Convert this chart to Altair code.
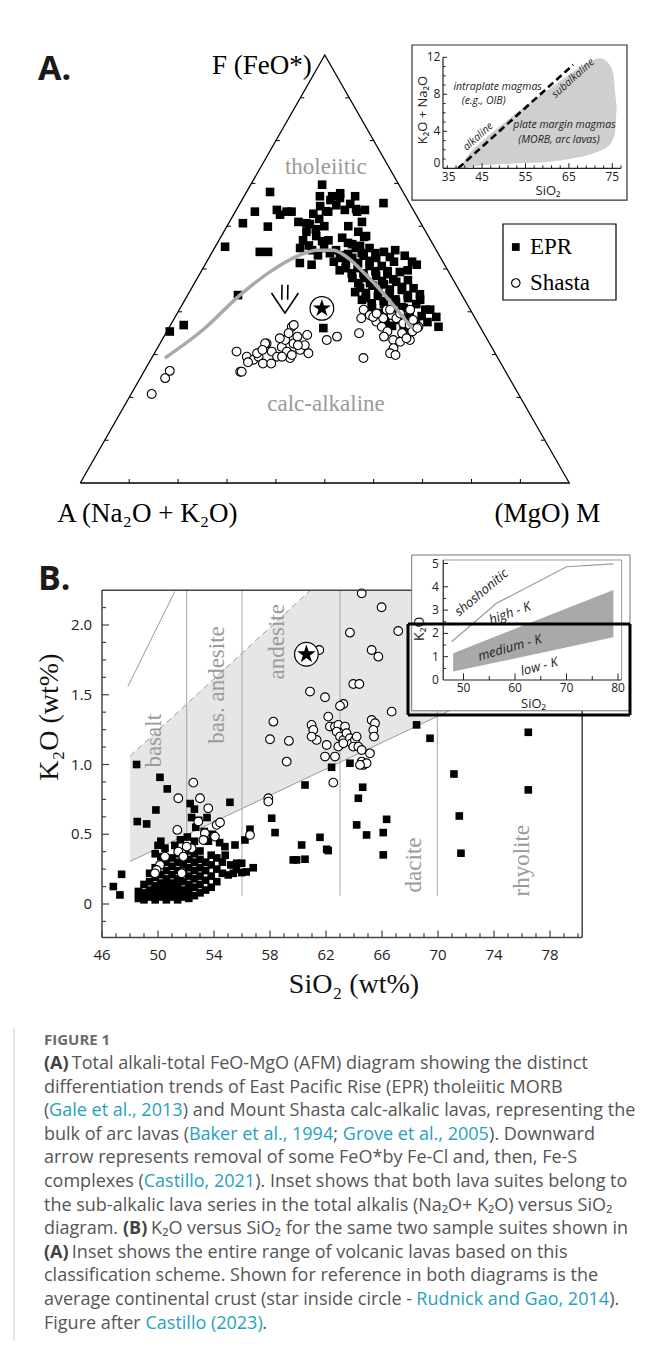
import altair as alt
import pandas as pd

# ===================== DATA =====================
# Panel A - AFM ternary. Pairs are (F = FeO*, M = MgO) in %, A = Na2O+K2O = 100 - F - M
epr_afm = [
    (68.0, 4.8), (69.7, 14.6), (67.7, 19.3), (65.4, 29.3), (63.4, 4.0), (63.8, 8.3), (63.4, 10.5), (63.4, 11.5),
    (62.7, 9.5), (60.7, 2.9), (59.9, 8.4), (55.2, 2.0), (54.0, 9.7), (54.0, 11.4), (51.4, 19.2), (51.0, 21.8),
    (43.9, 10.3), (36.9, 2.7), (35.4, 0.6), (36.2, 31.6), (61.0, 14.1), (60.7, 15.9), (38.8, 53.4), (36.5, 55.0),
    (40.5, 51.3), (42.8, 48.1), (51.7, 42.0), (51.0, 43.3), (49.7, 42.1), (40.5, 50.3),
    (66.1, 18.1), (66.6, 19.8), (65.2, 22.6), (64.7, 16.7), (63.4, 24.9), (62.9, 16.2), (61.0, 27.1), (60.5, 16.7),
    (58.7, 27.5), (57.7, 19.4), (56.7, 22.4), (57.3, 24.9), (55.8, 27.7), (56.7, 17.2), (54.9, 17.5), (54.4, 20.2),
    (54.9, 22.4), (54.4, 25.1), (53.5, 28.0), (55.4, 29.5), (63.4, 19.0), (63.8, 22.2), (60.0, 19.9), (60.0, 24.8),
    (57.7, 29.6), (58.7, 16.9), (67.0, 18.0), (67.0, 15.5), (67.0, 22.7), (63.8, 26.3), (52.6, 26.8), (52.6, 29.3),
    (53.1, 31.4), (52.6, 34.2), (50.2, 29.2), (50.2, 31.6), (50.7, 33.8), (50.7, 36.3), (51.7, 38.3), (47.9, 31.7),
    (47.9, 34.1), (48.4, 36.3), (48.8, 38.4), (49.3, 40.7), (45.6, 34.4), (46.1, 36.7), (46.4, 38.9), (47.0, 41.1),
    (47.4, 43.3), (43.2, 36.8), (43.7, 39.0), (44.1, 41.2), (45.1, 43.2), (45.5, 45.4), (40.9, 39.2), (41.8, 41.2),
    (42.3, 43.4), (43.2, 45.4), (39.0, 41.7), (40.0, 43.7), (40.9, 45.7), (41.8, 47.8), (38.1, 45.9), (38.5, 48.1),
    (39.0, 50.3), (36.2, 48.1), (36.7, 50.4), (37.6, 52.2), (54.9, 28.9), (54.9, 31.7), (54.0, 35.1), (54.4, 37.2),
    (53.1, 39.8), (49.7, 28.2), (51.7, 26.0), (36.7, 45.4), (36.7, 44.2), (42.8, 36.2), (44.6, 33.9), (44.1, 47.4),
    (51.4, 28.6), (51.4, 31.1), (51.9, 33.2), (49.0, 31.0), (49.0, 33.4), (49.5, 35.6), (49.5, 38.1), (46.7, 33.5),
    (46.7, 35.9), (47.2, 38.1), (47.6, 40.2), (44.4, 36.2), (44.9, 38.5), (45.2, 40.7), (45.8, 42.9), (42.0, 38.6),
    (42.5, 40.8), (42.9, 43.0), (43.9, 45.0), (39.7, 41.0), (40.6, 43.0), (41.1, 45.2), (37.8, 43.5), (38.8, 45.5),
    (39.7, 47.5), (36.9, 47.7), (37.3, 49.9), (53.7, 30.7), (53.7, 33.5), (52.8, 36.9), (64.9, 19.9), (64.0, 24.4),
    (63.5, 18.5), (61.7, 18.0), (59.3, 18.5), (57.5, 29.3), (56.5, 21.2), (56.1, 26.7), (55.5, 19.0), (53.2, 22.0),
    (53.7, 24.2), (53.2, 26.9),
]
shasta_afm = [
    (20.8, 4.2), (24.5, 5.1), (26.2, 5.2), (26.0, 19.7), (30.7, 16.6), (26.0, 20.0), (29.5, 19.3), (28.8, 21.0),
    (29.5, 21.7), (27.9, 23.4), (32.6, 21.8), (30.7, 23.8), (29.5, 25.5), (31.8, 25.3), (33.4, 25.2), (30.7, 26.9),
    (29.2, 28.3), (36.5, 25.0), (32.6, 27.3), (34.2, 27.3), (31.1, 29.4), (34.6, 29.1), (30.3, 31.5), (32.2, 29.8),
    (29.5, 26.5), (30.3, 21.0), (27.9, 25.1), (33.8, 23.9), (29.9, 28.3), (33.4, 33.7), (34.2, 35.4), (35.0, 39.5),
    (29.2, 43.3), (40.5, 37.7), (39.2, 39.6), (38.5, 38.2), (37.7, 41.7), (40.5, 42.4), (39.2, 44.1), (38.5, 45.4),
    (39.6, 45.6), (37.3, 47.4), (36.9, 48.9), (36.5, 50.9), (35.4, 50.2), (34.2, 49.4), (33.4, 47.3), (33.0, 48.9),
    (31.5, 48.3), (30.3, 48.2), (29.9, 49.5), (38.5, 42.7), (36.5, 43.4), (35.4, 45.1), (38.8, 40.5), (35.0, 48.3),
    (34.2, 45.0), (33.4, 50.7), (39.6, 40.8), (40.5, 43.1), (40.5, 47.2), (38.1, 49.0), (36.2, 50.8), (33.8, 49.8),
    (36.9, 25.2), (35.0, 25.1), (32.6, 21.5), (28.2, 20.2), (31.1, 21.7), (32.2, 28.4),
]
afm_trend = [(29.2, 2.7), (35.8, 7.2), (43.9, 10.7), (49.8, 14.5), (53.3, 18.3), (54.4, 21.2), (54.4, 24.5),
             (52.8, 28.1), (49.3, 33.2), (44.4, 39.7), (39.7, 45.5), (36.2, 49.7)]
crust_afm = [(40.8, 29.0)]
afm_arrow = [(0, 0, 46.3, 18.1), (0, 1, 42.8, 19.8), (1, 0, 46.3, 19.3), (1, 1, 42.8, 21.0),
             (2, 0, 44.4, 16.9), (2, 1, 39.7, 22.0), (2, 2, 44.4, 22.4)]
afm_ticks = [10, 20, 30, 40, 50, 60, 70, 80, 90]

# Inset A - total alkalis vs SiO2
tas_sio2 = [39.9, 41.5, 45.3, 49.9, 55.3, 60.7, 66.0, 69.9, 72.2, 74.1, 75.2, 75.6, 76.0]
tas_upper = [0.0, 1.25, 3.06, 4.86, 6.84, 8.65, 10.44, 11.52, 11.89, 11.35, 10.27, 8.5, 6.66]
tas_lower = [0.0, 0.1, 0.36, 0.47, 0.59, 0.71, 1.09, 1.5, 1.9, 2.4, 3.2, 3.78, 6.66]
tas_divide_sio2 = [39.5, 66.0]
tas_divide_alk = [0.0, 11.2]
tas_x_major = [45, 55, 65, 75]
tas_x_minor = [37, 39, 41, 43, 47, 49, 51, 53, 57, 59, 61, 63, 67, 69, 71, 73, 77]
tas_y_major = [0, 4, 8, 12]
tas_y_minor = [1, 2, 3, 5, 6, 7, 9, 10, 11]

# Panel B - K2O vs SiO2. Pairs are (SiO2, K2O) wt%
epr_k2o = [
    (48.47, 1.00), (50.14, 0.908), (50.66, 0.825), (49.85, 0.674), (48.52, 0.591), (49.19, 0.574), (55.14, 0.729),
    (60.50, 0.853), (62.40, 0.980), (63.71, 1.009), (68.47, 1.284), (69.43, 1.188), (76.45, 1.231), (76.45, 0.818),
    (71.14, 0.932), (71.52, 0.631), (71.64, 0.364), (64.62, 0.837), (64.31, 0.758), (58.12, 0.615), (58.36, 0.512),
    (66.33, 0.607), (64.19, 0.567), (64.90, 0.495), (66.09, 0.512), (66.09, 0.352), (61.57, 0.478), (62.05, 0.392),
    (62.16, 0.383), (60.26, 0.423), (59.66, 0.316), (59.90, 0.316), (60.50, 0.321), (56.57, 0.536), (56.21, 0.459),
    (55.50, 0.423), (54.78, 0.411), (55.62, 0.292), (55.98, 0.292), (55.38, 0.220), (55.02, 0.208), (55.98, 0.225),
    (47.40, 0.213), (46.81, 0.125), (47.28, 0.065),
    (52.3, 0.72), (52.6, 0.68), (52.4, 0.62), (52.9, 0.60), (52.7, 0.55), (53.3, 0.52), (52.1, 0.48), (53.6, 0.45),
    (52.6, 0.45), (54.4, 0.44), (53.9, 0.50), (51.6, 0.46), (50.2, 0.45), (50.0, 0.42), (49.8, 0.36), (50.5, 0.40),
    (51.2, 0.42), (54.8, 0.35), (55.2, 0.28), (55.6, 0.25), (56.3, 0.23), (56.8, 0.26), (53.5, 0.62),
    (48.6, 0.04), (48.6, 0.09), (49.0, 0.03), (49.0, 0.08), (49.0, 0.14), (49.4, 0.05), (49.4, 0.10), (49.4, 0.16),
    (49.4, 0.22), (49.8, 0.03), (49.8, 0.08), (49.8, 0.13), (49.8, 0.19), (49.8, 0.26), (50.2, 0.05), (50.2, 0.10),
    (50.2, 0.15), (50.2, 0.21), (50.2, 0.28), (50.2, 0.34), (50.6, 0.03), (50.6, 0.08), (50.6, 0.13), (50.6, 0.18),
    (50.6, 0.24), (50.6, 0.30), (51.0, 0.05), (51.0, 0.10), (51.0, 0.15), (51.0, 0.21), (51.0, 0.27), (51.0, 0.33),
    (51.4, 0.03), (51.4, 0.08), (51.4, 0.13), (51.4, 0.18), (51.4, 0.24), (51.4, 0.30), (51.4, 0.36), (51.8, 0.05),
    (51.8, 0.10), (51.8, 0.16), (51.8, 0.22), (51.8, 0.28), (51.8, 0.34), (52.2, 0.04), (52.2, 0.09), (52.2, 0.14),
    (52.2, 0.20), (52.2, 0.26), (52.2, 0.32), (52.2, 0.38), (52.6, 0.06), (52.6, 0.12), (52.6, 0.18), (52.6, 0.24),
    (52.6, 0.30), (52.6, 0.36), (53.0, 0.08), (53.0, 0.14), (53.0, 0.20), (53.0, 0.26), (53.0, 0.32), (53.0, 0.38),
    (53.4, 0.10), (53.4, 0.17), (53.4, 0.24), (53.4, 0.30), (53.8, 0.12), (53.8, 0.20), (53.8, 0.28), (53.8, 0.35),
    (54.2, 0.16), (54.2, 0.25), (54.2, 0.33), (54.6, 0.22), (54.6, 0.30),
]
shasta_k2o = [
    (64.55, 2.227), (65.97, 2.127), (63.71, 1.945), (67.16, 1.957), (65.26, 1.821), (65.74, 1.773), (61.52, 1.821),
    (63.95, 1.577), (64.38, 1.577), (60.86, 1.523), (61.93, 1.482), (63.24, 1.434), (63.00, 1.420), (58.24, 1.307),
    (58.00, 1.181), (59.35, 1.169), (59.19, 1.021), (60.97, 1.284), (61.09, 1.248), (61.33, 1.176), (60.97, 1.200),
    (62.16, 1.343), (62.28, 1.272), (62.64, 1.272), (62.88, 1.284), (62.76, 1.236), (63.00, 1.200), (63.24, 1.176),
    (63.36, 1.272), (63.47, 1.224), (63.71, 1.188), (63.83, 1.152), (64.07, 1.176), (64.19, 1.200), (62.05, 1.140),
    (61.93, 1.057), (62.64, 1.057), (62.88, 1.128), (63.24, 1.152), (63.95, 1.128), (64.31, 1.128), (64.55, 1.104),
    (65.14, 1.080), (64.55, 1.021), (64.67, 0.997), (64.90, 1.009), (64.43, 0.997), (65.26, 1.319), (65.50, 1.296),
    (65.38, 1.248), (65.43, 1.200), (66.69, 1.379), (62.52, 0.870), (57.88, 0.758), (57.88, 0.734),
    (52.52, 0.870), (53.00, 0.758), (51.45, 0.758), (53.59, 0.686), (54.19, 0.567), (54.43, 0.584), (52.88, 0.591),
    (51.38, 0.531), (53.35, 0.507), (54.07, 0.483), (53.24, 0.459), (52.40, 0.399), (52.05, 0.411), (51.45, 0.376),
    (51.81, 0.340), (50.50, 0.340), (50.14, 0.280), (49.90, 0.244), (49.78, 0.220), (51.69, 0.220), (56.57, 0.495),
]
crust_k2o = [(60.6, 1.79)]
rock_dividers = [52.05, 56.0, 63.0, 69.95]
rock_names = [("basalt", 49.7, 1.17), ("bas. andesite", 54.2, 1.57), ("andesite", 58.5, 1.88),
              ("dacite", 68.3, 0.28), ("rhyolite", 76.0, 0.31)]
medk_sio2 = [48.0, 60.9, 80.3]
medk_upper = [1.06, 2.25, 2.25]
medk_lower = [0.305, 0.916, 1.835]
b_x_major = [46, 50, 54, 58, 62, 66, 70, 74, 78]
b_x_minor = [47, 48, 49, 51, 52, 53, 55, 56, 57, 59, 60, 61, 63, 64, 65, 67, 68, 69, 71, 72, 73, 75, 76, 77, 79, 80]
b_y_major = [0.0, 0.5, 1.0, 1.5, 2.0]
b_y_minor = [-0.125, 0.125, 0.25, 0.375, 0.625, 0.75, 0.875, 1.125, 1.25, 1.375, 1.625, 1.75, 1.875, 2.125]

# Inset B - K2O series fields
series_sio2 = [48.0, 79.1]
series_mk_upper = [1.15, 3.86]
series_mk_lower = [0.36, 1.83]
shosh_sio2 = [47.7, 56.4, 70.0, 79.1]
shosh_k2o = [1.64, 3.29, 4.86, 4.98]
series_labels = [("shoshonitic", 53.5, 3.75, 320), ("high - K", 59.0, 2.86, 340),
                 ("medium - K", 59.0, 1.38, 344), ("low - K", 64.7, 0.57, 345)]

# Caption
caption_title = "FIGURE 1"
caption_lines = [
    [("(A)", "b"), (" Total alkali-total FeO-MgO (AFM) diagram showing the distinct", "n")],
    [("differentiation trends of East Pacific Rise (EPR) tholeiitic MORB", "n")],
    [("(", "n"), ("Gale et al., 2013", "l"), (") and Mount Shasta calc-alkalic lavas, representing the", "n")],
    [("bulk of arc lavas (", "n"), ("Baker et al., 1994", "l"), ("; ", "n"), ("Grove et al., 2005", "l"), ("). Downward", "n")],
    [("arrow represents removal of some FeO*by Fe-Cl and, then, Fe-S", "n")],
    [("complexes (", "n"), ("Castillo, 2021", "l"), ("). Inset shows that both lava suites belong to", "n")],
    [("the sub-alkalic lava series in the total alkalis (Na\u2082O+ K\u2082O) versus SiO\u2082", "n")],
    [("diagram. ", "n"), ("(B)", "b"), (" K\u2082O versus SiO\u2082 for the same two sample suites shown in", "n")],
    [("(A)", "b"), (" Inset shows the entire range of volcanic lavas based on this", "n")],
    [("classification scheme. Shown for reference in both diagrams is the", "n")],
    [("average continental crust (star inside circle - ", "n"), ("Rudnick and Gao, 2014", "l"), (").", "n")],
    [("Figure after ", "n"), ("Castillo (2023)", "l"), (".", "n")],
]

# ===================== LAYOUT / HELPERS =====================
CW, CH = 628, 1328          # one canvas; each panel is placed on it by a linear mapping
SERIF = "Liberation Serif"
SANS = "Open Sans"
STAR = ("M0,-1L0.2245,-0.309L0.951,-0.309L0.363,0.118L0.588,0.809L0,0.382L-0.588,0.809"
        "L-0.363,0.118L-0.951,-0.309L-0.2245,-0.309Z")
XS = alt.Scale(domain=[0, CW], nice=False, zero=False)
YS = alt.Scale(domain=[-CH, 0], nice=False, zero=False)


def EX(f="cx"):
    return alt.X(f"{f}:Q", scale=XS, axis=None)


def EY(f="cy"):
    return alt.Y(f"{f}:Q", scale=YS, axis=None)


def mx(off, k, base=0.0):
    return lambda c: f"{off} + {k} * (datum.{c} - {base})"


def my(off, k, base=0.0):
    return lambda c: f"-({off} - {k} * (datum.{c} - {base}))"


# panel placements
TER_X, TER_Y = mx(67.3, 489), my(470, 428)          # ternary cartesian units
IA_X, IA_Y = mx(430, 4.341, 36), my(155.3, 9.25)    # inset A (SiO2, Na2O+K2O)
B_X, B_Y = mx(89, 14, 46), my(891, 139.5)           # panel B (SiO2, K2O)
IB_X, IB_Y = mx(450.5, 5.15, 50), my(667, 23.3)     # inset B (SiO2, K2O)


def mapped(df, fx, fy, xcols, ycols):
    calc = {f"c{c}": fx(c) for c in xcols}
    calc.update({f"c{c}": fy(c) for c in ycols})
    return alt.Chart(df).transform_calculate(**calc)


def rules(df, fx, fy, **mk):
    return mapped(df, fx, fy, ["x", "x2"], ["y", "y2"]).mark_rule(**mk).encode(
        x=EX("cx"), x2=alt.X2("cx2"), y=EY("cy"), y2=alt.Y2("cy2"))


def rects(df, fx, fy, **mk):
    return mapped(df, fx, fy, ["x", "x2"], ["y", "y2"]).mark_rect(**mk).encode(
        x=EX("cx"), x2=alt.X2("cx2"), y=EY("cy"), y2=alt.Y2("cy2"))


def texts(df, fx, fy, **mk):
    return mapped(df, fx, fy, ["x"], ["y"]).mark_text(**mk).encode(x=EX("cx"), y=EY("cy"), text="t:N")


def areas(df, fx, fy, **mk):
    return mapped(df, fx, fy, ["x"], ["u", "l"]).mark_area(**mk).encode(x=EX("cx"), y=EY("cu"), y2=alt.Y2("cl"))


def lines(df, fx, fy, **mk):
    return mapped(df, fx, fy, ["x"], ["y"]).mark_line(**mk).encode(x=EX("cx"), y=EY("cy"), order="i:Q")


def pts(pairs, fx, fy):
    return mapped(pd.DataFrame({"x": [p[0] for p in pairs], "y": [p[1] for p in pairs]}), fx, fy, ["x"], ["y"])


def frame_df(x, x2, y, y2):
    return pd.DataFrame({"x": [x], "x2": [x2], "y": [y], "y2": [y2]})


def tern(df):
    return alt.Chart(df).transform_calculate(cx="67.3 + 4.89 * (datum.M + datum.F / 2)", cy="-(470 - 4.28 * datum.F)")


PENC = dict(x=EX("cx"), y=EY("cy"))
layers = []

# ===================== PANEL A =====================
tri = pd.DataFrame({"F": [0, 0, 100, 0], "M": [0, 100, 0, 0], "i": [0, 1, 2, 3]})
layers.append(tern(tri).mark_line(color="black", strokeWidth=1.3).encode(order="i:Q", **PENC))

tk = pd.DataFrame({"v": afm_ticks})
for calc in (
    dict(cx="67.3 + 4.89 * datum.v", cx2="67.3 + 4.89 * datum.v", cy="-470 + 0 * datum.v", cy2="-466 + 0 * datum.v"),
    dict(cx="67.3 + 2.445 * datum.v", cx2="71.3 + 2.445 * datum.v", cy="-(470 - 4.28 * datum.v)", cy2="-(470 - 4.28 * datum.v)"),
    dict(cx="67.3 + 4.89 * (100 - datum.v / 2)", cx2="63.3 + 4.89 * (100 - datum.v / 2)", cy="-(470 - 4.28 * datum.v)", cy2="-(470 - 4.28 * datum.v)"),
):
    layers.append(alt.Chart(tk).transform_calculate(**calc).mark_rule(color="black", strokeWidth=1).encode(
        x=EX("cx"), x2=alt.X2("cx2"), y=EY("cy"), y2=alt.Y2("cy2")))

layers.append(tern(pd.DataFrame({"F": [p[0] for p in epr_afm], "M": [p[1] for p in epr_afm]})).mark_square(
    size=74, color="black", opacity=1).encode(**PENC))
layers.append(tern(pd.DataFrame({"F": [p[0] for p in shasta_afm], "M": [p[1] for p in shasta_afm]})).mark_circle(
    size=78, fill="white", stroke="black", strokeWidth=1.1, opacity=1).encode(**PENC))

trend_df = pd.DataFrame({"F": [p[0] for p in afm_trend], "M": [p[1] for p in afm_trend], "i": list(range(len(afm_trend)))})
layers.append(tern(trend_df).mark_line(color="#a9a9a9", strokeWidth=3.5, interpolate="monotone").encode(order="i:Q", **PENC))

crustA = pd.DataFrame({"F": [crust_afm[0][0]], "M": [crust_afm[0][1]]})
layers.append(tern(crustA).mark_circle(size=560, fill="white", stroke="black", strokeWidth=1.2, opacity=1).encode(**PENC))
layers.append(tern(crustA).mark_point(shape=STAR, filled=True, color="black", size=360, opacity=1).encode(**PENC))

arrow_df = pd.DataFrame({"g": [a[0] for a in afm_arrow], "i": [a[1] for a in afm_arrow],
                         "F": [a[2] for a in afm_arrow], "M": [a[3] for a in afm_arrow]})
layers.append(tern(arrow_df).mark_line(color="black", strokeWidth=1.6).encode(detail="g:N", order="i:Q", **PENC))

layers.append(tern(pd.DataFrame({"F": [73.8, 18.5], "M": [13.3, 41.0], "t": ["tholeiitic", "calc-alkaline"]})).mark_text(
    font=SERIF, fontSize=23, color="#9a9a9a").encode(text="t:N", **PENC))
layers.append(tern(pd.DataFrame({"F": [100], "M": [0], "t": ["F (FeO*)"]})).mark_text(
    font=SERIF, fontSize=27, align="right", baseline="middle", dx=-13, dy=11).encode(text="t:N", **PENC))
layers.append(tern(pd.DataFrame({"F": [0], "M": [0], "t": ["A (Na\u2082O + K\u2082O)"]})).mark_text(
    font=SERIF, fontSize=27, align="left", baseline="middle", dx=-23, dy=31).encode(text="t:N", **PENC))
layers.append(tern(pd.DataFrame({"F": [0], "M": [100], "t": ["(MgO) M"]})).mark_text(
    font=SERIF, fontSize=27, align="right", baseline="middle", dx=31, dy=31).encode(text="t:N", **PENC))

layers.append(texts(pd.DataFrame({"x": [-0.0865], "y": [0.965], "t": ["A."]}), TER_X, TER_Y,
                    font=SANS, fontSize=34, fontWeight="bold", align="left", baseline="middle", color="#1a1a1a"))

# legend
layers.append(rects(frame_df(0.8644, 1.0955, 0.4276, 0.6051), TER_X, TER_Y, fill="white", stroke="black", strokeWidth=1.2))
layers.append(pts([(0.8906, 0.5514)], TER_X, TER_Y).mark_square(size=60, color="black", opacity=1).encode(**PENC))
layers.append(pts([(0.8906, 0.4673)], TER_X, TER_Y).mark_circle(size=72, fill="white", stroke="black",
                                                                 strokeWidth=1.1, opacity=1).encode(**PENC))
layers.append(texts(pd.DataFrame({"x": [0.9196, 0.9196], "y": [0.5514, 0.4673], "t": ["EPR", "Shasta"]}), TER_X, TER_Y,
                    font=SERIF, fontSize=23, align="left", baseline="middle", color="black"))

# ----- Inset A
layers += [
    rects(frame_df(28.86, 78.39, -3.43, 13.33), IA_X, IA_Y, fill="white", stroke="#333333", strokeWidth=1.2),
    areas(pd.DataFrame({"x": tas_sio2, "u": tas_upper, "l": tas_lower}), IA_X, IA_Y,
          color="#cfcfcf", interpolate="monotone", opacity=1),
    lines(pd.DataFrame({"x": tas_divide_sio2, "y": tas_divide_alk, "i": [0, 1]}), IA_X, IA_Y,
          color="black", strokeWidth=2.6, strokeDash=[7, 4]),
    rules(pd.DataFrame({"x": [36, 36], "x2": [36, 77], "y": [0, 0], "y2": [12, 0]}), IA_X, IA_Y,
          color="#222222", strokeWidth=1.2),
    rules(pd.DataFrame({"x": tas_x_major + tas_x_minor, "x2": tas_x_major + tas_x_minor,
                        "y": [0] * (len(tas_x_major) + len(tas_x_minor)),
                        "y2": [0.55] * len(tas_x_major) + [0.32] * len(tas_x_minor)}), IA_X, IA_Y,
          color="#222222", strokeWidth=1),
    rules(pd.DataFrame({"x": [36] * (len(tas_y_major) + len(tas_y_minor)),
                        "x2": [36.95] * len(tas_y_major) + [36.6] * len(tas_y_minor),
                        "y": tas_y_major + tas_y_minor, "y2": tas_y_major + tas_y_minor}), IA_X, IA_Y,
          color="#222222", strokeWidth=1),
    texts(pd.DataFrame({"x": tas_x_major, "y": [-0.35] * 4, "t": [str(v) for v in tas_x_major]}), IA_X, IA_Y,
          font=SANS, fontSize=12, baseline="top", color="#222222"),
    texts(pd.DataFrame({"x": [35], "y": [-0.35], "t": ["35"]}), IA_X, IA_Y,
          font=SANS, fontSize=12, baseline="top", dx=10, color="#222222"),
    texts(pd.DataFrame({"x": [35.4] * 4, "y": [0.6, 4, 8, 12], "t": ["0", "4", "8", "12"]}), IA_X, IA_Y,
          font=SANS, fontSize=12, align="right", baseline="middle", color="#222222"),
    texts(pd.DataFrame({"x": [31.3], "y": [6.3], "t": ["K\u2082O + Na\u2082O"]}), IA_X, IA_Y,
          font=SANS, fontSize=13, angle=270, baseline="middle", color="#222222"),
    texts(pd.DataFrame({"x": [60.2], "y": [-2.5], "t": ["SiO\u2082"]}), IA_X, IA_Y,
          font=SANS, fontSize=13, baseline="middle", color="#222222"),
    texts(pd.DataFrame({"x": [38.4, 40.3, 52.2, 53.35], "y": [8.82, 7.3, 4.68, 3.06],
                        "t": ["intraplate magmas", "(e.g., OIB)", "plate margin magmas", "(MORB, arc lavas)"]}),
          IA_X, IA_Y, font=SANS, fontSize=10.5, fontStyle="italic", align="left", baseline="middle", color="#222222"),
    texts(pd.DataFrame({"x": [44.1, 66.0], "y": [3.42, 9.73], "t": ["alkaline", "subalkaline"]}), IA_X, IA_Y,
          font=SANS, fontSize=10.5, fontStyle="italic", angle=318, baseline="middle", color="#222222"),
]

# ===================== PANEL B =====================
layers += [
    areas(pd.DataFrame({"x": medk_sio2, "u": medk_upper, "l": medk_lower}), B_X, B_Y, color="#e6e6e6", opacity=1),
    rules(pd.DataFrame({"x": rock_dividers, "x2": rock_dividers, "y": [0.06] * 4, "y2": [2.25] * 4}), B_X, B_Y,
          color="#a6a6a6", strokeWidth=1),
    rules(frame_df(48.0, 80.3, 0.305, 1.835), B_X, B_Y, color="#9a9a9a", strokeWidth=1),
    rules(frame_df(48.0, 60.9, 1.06, 2.25), B_X, B_Y, color="#9a9a9a", strokeWidth=1, strokeDash=[6, 4]),
    rules(frame_df(47.85, 51.2, 1.56, 2.24), B_X, B_Y, color="#9a9a9a", strokeWidth=1),
    texts(pd.DataFrame({"x": [r[1] for r in rock_names], "y": [r[2] for r in rock_names],
                        "t": [r[0] for r in rock_names]}), B_X, B_Y,
          font=SERIF, fontSize=23, angle=270, baseline="middle", color="#9a9a9a"),
    pts(epr_k2o, B_X, B_Y).mark_square(size=58, color="black", opacity=1).encode(**PENC),
    pts(shasta_k2o, B_X, B_Y).mark_circle(size=76, fill="white", stroke="black", strokeWidth=1.1,
                                          opacity=1).encode(**PENC),
    pts(crust_k2o, B_X, B_Y).mark_circle(size=560, fill="white", stroke="black", strokeWidth=1.2,
                                         opacity=1).encode(**PENC),
    pts(crust_k2o, B_X, B_Y).mark_point(shape=STAR, filled=True, color="black", size=380,
                                        opacity=1).encode(**PENC),
    rules(pd.DataFrame({"x": [46.0, 46.0, 46.0, 80.3], "x2": [80.3, 80.3, 46.0, 80.3],
                        "y": [-0.24, 2.25, -0.24, -0.24], "y2": [-0.24, 2.25, 2.25, 2.25]}), B_X, B_Y,
          color="#444444", strokeWidth=1.5),
    rules(pd.DataFrame({"x": b_x_major + b_x_minor, "x2": b_x_major + b_x_minor,
                        "y": [-0.24] * (len(b_x_major) + len(b_x_minor)),
                        "y2": [-0.19] * len(b_x_major) + [-0.21] * len(b_x_minor)}), B_X, B_Y,
          color="#444444", strokeWidth=1.2),
    rules(pd.DataFrame({"x": [46.0] * (len(b_y_major) + len(b_y_minor)),
                        "x2": [46.5] * len(b_y_major) + [46.29] * len(b_y_minor),
                        "y": b_y_major + b_y_minor, "y2": b_y_major + b_y_minor}), B_X, B_Y,
          color="#444444", strokeWidth=1.2),
    texts(pd.DataFrame({"x": b_x_major, "y": [-0.366] * len(b_x_major), "t": [str(v) for v in b_x_major]}), B_X, B_Y,
          font=SANS, fontSize=15, baseline="middle", color="#222222"),
    texts(pd.DataFrame({"x": [45.3] * 5, "y": b_y_major, "t": ["0", "0.5", "1.0", "1.5", "2.0"]}), B_X, B_Y,
          font=SANS, fontSize=15, align="right", baseline="middle", color="#222222"),
    texts(pd.DataFrame({"x": [42.3], "y": [1.34], "t": ["K\u2082O  (wt%)"]}), B_X, B_Y,
          font=SERIF, fontSize=28, angle=270, baseline="middle", color="#111111"),
    texts(pd.DataFrame({"x": [64.0], "y": [-0.58], "t": ["SiO\u2082 (wt%)"]}), B_X, B_Y,
          font=SERIF, fontSize=28, baseline="middle", color="#111111"),
    texts(pd.DataFrame({"x": [41.43], "y": [2.323], "t": ["B."]}), B_X, B_Y,
          font=SANS, fontSize=34, fontWeight="bold", align="left", baseline="middle", color="#1a1a1a"),
]

# ----- Inset B
layers += [
    rects(frame_df(39.94, 82.33, -1.32, 5.365), IB_X, IB_Y, fill="white", stroke="#777777", strokeWidth=1),
    rules(pd.DataFrame({"x": [46.06, 80.7], "x2": [80.7, 80.7], "y": [5.15, 0.0], "y2": [5.15, 5.15]}), IB_X, IB_Y,
          color="#9a9a9a", strokeWidth=1),
    areas(pd.DataFrame({"x": series_sio2, "u": series_mk_upper, "l": series_mk_lower}), IB_X, IB_Y,
          color="#a9a9a9", opacity=1),
    lines(pd.DataFrame({"x": shosh_sio2, "y": shosh_k2o, "i": [0, 1, 2, 3]}), IB_X, IB_Y,
          color="#9a9a9a", strokeWidth=1.2),
    rules(pd.DataFrame({"x": [46.06, 46.06], "x2": [46.06, 80.7], "y": [0, 0], "y2": [5.15, 0]}), IB_X, IB_Y,
          color="#222222", strokeWidth=1.2),
    rules(pd.DataFrame({"x": [50, 60, 70, 80, 55, 65, 75], "x2": [50, 60, 70, 80, 55, 65, 75],
                        "y": [0] * 7, "y2": [0.28] * 4 + [0.17] * 3}), IB_X, IB_Y, color="#222222", strokeWidth=1),
    rules(pd.DataFrame({"x": [46.06] * 9, "x2": [47.0] * 5 + [46.6] * 4,
                        "y": [1, 2, 3, 4, 5, 0.5, 1.5, 2.5, 3.5], "y2": [1, 2, 3, 4, 5, 0.5, 1.5, 2.5, 3.5]}),
          IB_X, IB_Y, color="#222222", strokeWidth=1),
    texts(pd.DataFrame({"x": [50, 60, 70, 80], "y": [-0.12] * 4, "t": ["50", "60", "70", "80"]}), IB_X, IB_Y,
          font=SANS, fontSize=12, baseline="top", color="#222222"),
    texts(pd.DataFrame({"x": [45.2] * 6, "y": [0, 1, 2, 3, 4, 5], "t": ["0", "1", "2", "3", "4", "5"]}), IB_X, IB_Y,
          font=SANS, fontSize=12, align="right", baseline="middle", color="#222222"),
    texts(pd.DataFrame({"x": [41.6], "y": [2.2], "t": ["K\u2082O"]}), IB_X, IB_Y,
          font=SANS, fontSize=14, angle=270, baseline="middle", color="#222222"),
    texts(pd.DataFrame({"x": [63.6], "y": [-1.02], "t": ["SiO\u2082"]}), IB_X, IB_Y,
          font=SANS, fontSize=13, baseline="middle", color="#222222"),
]
for s in series_labels:
    layers.append(texts(pd.DataFrame({"x": [s[1]], "y": [s[2]], "t": [s[0]]}), IB_X, IB_Y, font=SANS, fontSize=13,
                        fontStyle="italic", angle=s[3], baseline="middle", color="#222222"))
# highlighted window (thick black frame) in panel-B units
layers.append(rules(pd.DataFrame({"x": [67.857, 67.857, 67.857, 83.714], "x2": [83.714, 83.714, 67.857, 83.714],
                                  "y": [1.355, 2.007, 1.355, 1.355], "y2": [1.355, 2.007, 2.007, 2.007]}),
                    B_X, B_Y, color="black", strokeWidth=3))

# ===================== CAPTION =====================
OS_W = {' ': 532, '!': 565, "'": 446, '(': 582, ')': 582, '*': 1120, '+': 1171, ',': 547, '-': 659, '.': 545,
        ':': 545, ';': 545, '?': 879, '\u2082': 760,
        'A': 1296, 'B': 1327, 'C': 1292, 'D': 1493, 'E': 1139, 'F': 1057, 'G': 1491, 'H': 1511, 'I': 571, 'J': 547,
        'K': 1257, 'L': 1063, 'M': 1849, 'N': 1544, 'O': 1595, 'P': 1233, 'Q': 1595, 'R': 1266, 'S': 1124, 'T': 1133,
        'U': 1491, 'V': 1219, 'W': 1896, 'X': 1182, 'Y': 1147, 'Z': 1169,
        'a': 1139, 'b': 1255, 'c': 975, 'd': 1255, 'e': 1149, 'f': 694, 'g': 1122, 'h': 1257, 'i': 518, 'j': 518,
        'k': 1075, 'l': 518, 'm': 1905, 'n': 1257, 'o': 1237, 'p': 1255, 'q': 1255, 'r': 836, 's': 977, 't': 723,
        'u': 1257, 'v': 1026, 'w': 1593, 'x': 1073, 'y': 1028, 'z': 977}
CAP_SIZE = 18
CAP_LEFT = 31


def text_w(s, bold=False):
    w = sum(OS_W.get(ch, 1171) for ch in s) * CAP_SIZE / 2048.0
    return w * (1.07 if bold else 1.0)


rows = []
for li, segs in enumerate(caption_lines, start=1):
    cur = CAP_LEFT
    for seg, st in segs:
        lead = len(seg) - len(seg.lstrip(" "))
        rows.append({"x": cur + text_w(" " * lead), "y": li, "t": seg.strip(), "st": st,
                     "c": {"n": "#555555", "b": "#444444", "l": "#1fa2c2"}[st]})
        cur += text_w(seg, st == "b")
cap_df = pd.DataFrame(rows)


def CAP_X(c):
    return f"datum.{c}"


def CAP_Y(c):
    return f"-(1051 + 23.6 * (datum.{c} - 1))"


def cap_layer(df, **mk):
    return mapped(df, CAP_X, CAP_Y, ["x"], ["y"]).mark_text(
        font=SANS, fontSize=CAP_SIZE, align="left", baseline="middle", **mk).encode(
        x=EX("cx"), y=EY("cy"), text="t:N", color=alt.Color("c:N", scale=None))


layers += [
    rules(pd.DataFrame({"x": [1], "x2": [1], "y": [-0.525], "y2": [12.74]}), CAP_X, CAP_Y,
          color="#cfcfcf", strokeWidth=1),
    texts(pd.DataFrame({"x": [CAP_LEFT], "y": [0], "t": [caption_title]}), CAP_X, CAP_Y,
          font=SANS, fontSize=15, fontWeight="bold", align="left", baseline="middle", color="#6b6b6b"),
    cap_layer(cap_df[cap_df.st != "b"].reset_index(drop=True)),
    cap_layer(cap_df[cap_df.st == "b"].reset_index(drop=True), fontWeight="bold"),
]

chart = alt.layer(*layers).properties(width=CW, height=CH).configure_view(strokeWidth=0)
chart.save("out.html", embed_options={"renderer": "svg", "actions": False})
